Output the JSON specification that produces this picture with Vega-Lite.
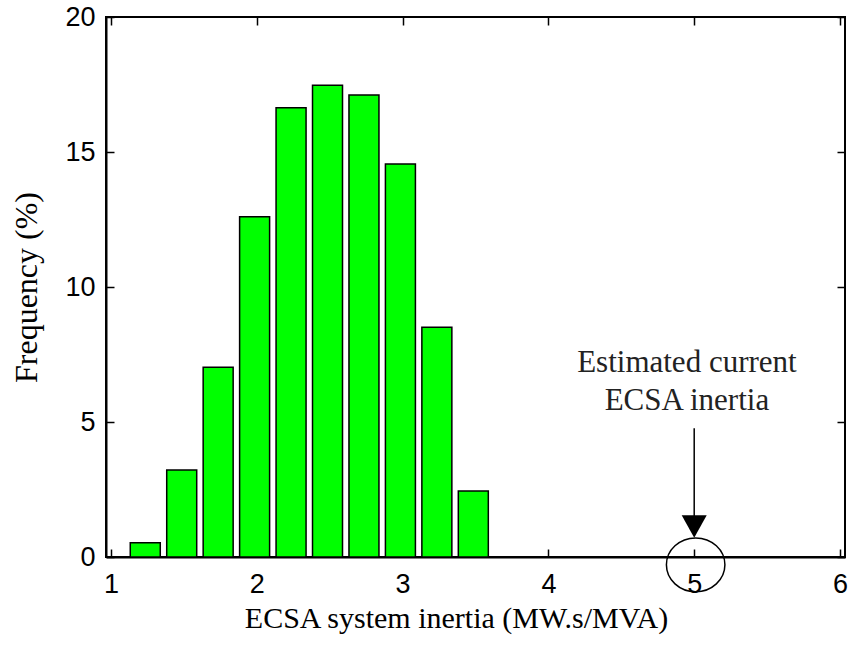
{
  "$schema": "https://vega.github.io/schema/vega-lite/v6.json",
  "width": 739,
  "height": 540,
  "autosize": "none",
  "padding": {"left": 106, "top": 17, "right": 11, "bottom": 97},
  "background": "white",
  "config": {
    "view": {"stroke": "black", "strokeWidth": 2},
    "axis": {
      "domainColor": "black",
      "domainWidth": 2,
      "tickColor": "black",
      "tickWidth": 1.5,
      "tickSize": -8,
      "grid": false,
      "labelFont": "Liberation Sans",
      "labelFontSize": 27,
      "labelColor": "black",
      "titleFont": "Liberation Serif",
      "titleFontSize": 30,
      "titleFontWeight": "normal",
      "titleColor": "black"
    }
  },
  "datasets": {
    "hist": [
      {"inertia": 1.235, "freq": 0.53},
      {"inertia": 1.485, "freq": 3.22},
      {"inertia": 1.735, "freq": 7.03},
      {"inertia": 1.985, "freq": 12.6},
      {"inertia": 2.235, "freq": 16.64},
      {"inertia": 2.485, "freq": 17.47},
      {"inertia": 2.735, "freq": 17.11},
      {"inertia": 2.985, "freq": 14.56},
      {"inertia": 3.235, "freq": 8.51},
      {"inertia": 3.485, "freq": 2.44}
    ],
    "one": [{}]
  },
  "layer": [
    {
      "data": {"name": "hist"},
      "mark": {"type": "bar", "width": 30, "fill": "#00ff00", "stroke": "black", "strokeWidth": 1.5},
      "encoding": {
        "x": {
          "field": "inertia", "type": "quantitative",
          "scale": {"domain": [1, 6], "nice": false, "zero": false},
          "axis": {"values": [1, 2, 3, 4, 5, 6], "title": "ECSA system inertia (MW.s/MVA)", "labelPadding": 22, "titlePadding": 6, "titleX": 350, "titleAnchor": null, "labelFlush": false}
        },
        "y": {
          "field": "freq", "type": "quantitative",
          "scale": {"domain": [0, 20], "nice": false},
          "axis": {"values": [0, 5, 10, 15, 20], "title": "Frequency (%)", "labelPadding": 19, "titlePadding": 21, "titleFontSize": 32, "labelFlush": false}
        }
      }
    },
    {
      "data": {"name": "hist"},
      "mark": {"type": "point", "opacity": 0},
      "encoding": {
        "x": {"field": "inertia", "type": "quantitative", "axis": {"orient": "top", "values": [1, 2, 3, 4, 5, 6], "labels": false, "title": null, "domain": false}},
        "y": {"field": "freq", "type": "quantitative", "axis": {"orient": "right", "values": [0, 5, 10, 15, 20], "labels": false, "title": null, "domain": false}}
      }
    },
    {
      "data": {"name": "one"},
      "mark": {"type": "rule", "color": "black", "strokeWidth": 1.5},
      "encoding": {
        "x": {"datum": 5, "type": "quantitative", "axis": null},
        "y": {"datum": 4.77, "type": "quantitative", "axis": null},
        "y2": {"datum": 1.5}
      }
    },
    {
      "data": {"name": "one"},
      "mark": {"type": "point", "shape": "M-1,-0.9L1,-0.9L0,0.9Z", "size": 625, "filled": true, "color": "black", "opacity": 1},
      "encoding": {
        "x": {"datum": 5, "type": "quantitative", "axis": null},
        "y": {"datum": 1.13, "type": "quantitative", "axis": null}
      }
    },
    {
      "data": {"name": "one"},
      "mark": {"type": "point", "shape": "M-1,0A1,0.92 0 1,0 1,0A1,0.92 0 1,0 -1,0Z", "size": 3422, "filled": false, "color": "black", "strokeWidth": 1.5, "opacity": 1, "clip": false},
      "encoding": {
        "x": {"datum": 5.01, "type": "quantitative", "axis": null},
        "y": {"datum": -0.29, "type": "quantitative", "axis": null}
      }
    },
    {
      "data": {"name": "one"},
      "mark": {"type": "text", "font": "Liberation Serif", "fontSize": 31, "color": "#222", "align": "center", "baseline": "alphabetic", "text": "Estimated current"},
      "encoding": {
        "x": {"datum": 4.95, "type": "quantitative", "axis": null},
        "y": {"datum": 6.85, "type": "quantitative", "axis": null}
      }
    },
    {
      "data": {"name": "one"},
      "mark": {"type": "text", "font": "Liberation Serif", "fontSize": 31, "color": "#222", "align": "center", "baseline": "alphabetic", "text": "ECSA inertia"},
      "encoding": {
        "x": {"datum": 4.95, "type": "quantitative", "axis": null},
        "y": {"datum": 5.44, "type": "quantitative", "axis": null}
      }
    }
  ],
  "resolve": {"axis": {"x": "independent", "y": "independent"}}
}
